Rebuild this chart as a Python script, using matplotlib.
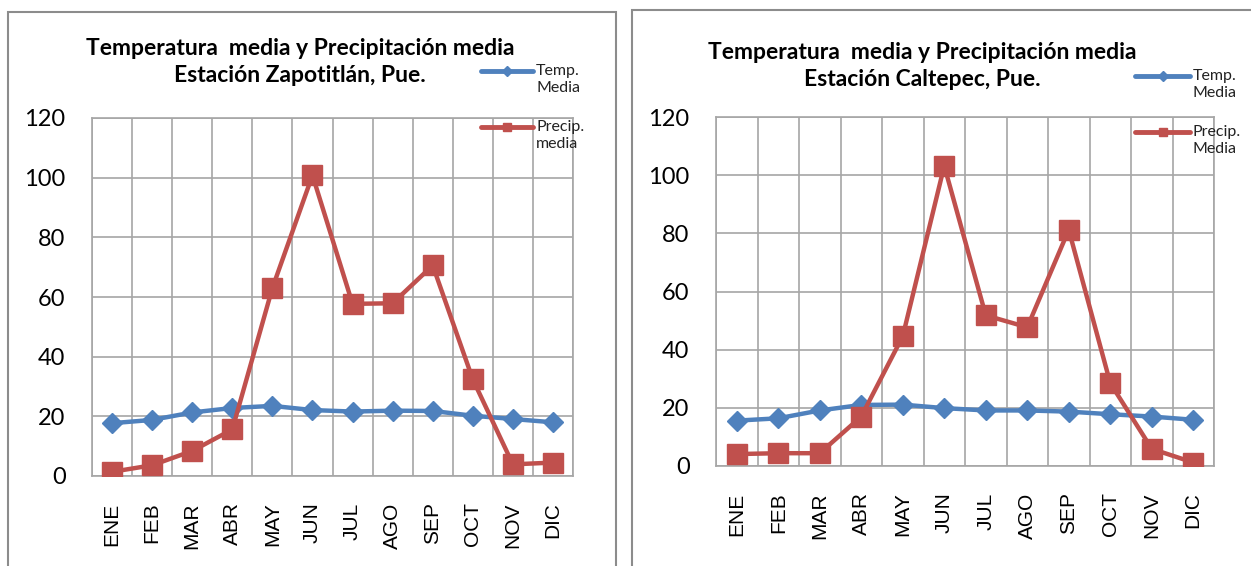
import matplotlib.pyplot as plt
from matplotlib.lines import Line2D
from matplotlib.patches import Rectangle

W, H = 1251, 566

meses = ['ENE', 'FEB', 'MAR', 'ABR', 'MAY', 'JUN', 'JUL', 'AGO', 'SEP', 'OCT', 'NOV', 'DIC']

# Estación Zapotitlán
temp_zapotitlan = [17.7, 18.8, 21.3, 22.8, 23.5, 22.1, 21.6, 21.9, 21.8, 20.2, 19.1, 18.0]
precip_zapotitlan = [1.4, 3.6, 8.4, 15.6, 63.0, 100.8, 57.7, 57.9, 70.6, 32.4, 3.9, 4.5]

# Estación Caltepec
temp_caltepec = [15.6, 16.4, 19.1, 21.0, 21.1, 19.9, 19.1, 19.1, 18.7, 17.8, 17.0, 15.9]
precip_caltepec = [4.1, 4.4, 4.4, 17.0, 44.6, 103.2, 51.8, 47.7, 81.2, 28.5, 5.9, 1.2]

yticks = [0, 20, 40, 60, 80, 100, 120]

AZUL = '#4F81BD'
ROJO = '#C0504D'
GRIS = '#a6a6a6'


def fx(x):
    return x / W


def fy(y):
    return 1 - y / H


def marco(fig, x0, y0, x1, y1):
    fig.add_artist(Rectangle((fx(x0), fy(y1)), fx(x1) - fx(x0), fy(y0) - fy(y1),
                             transform=fig.transFigure, fill=False,
                             edgecolor='#8c8c8c', linewidth=1.5))


def leyenda(fig, x0, x1, y, texto, color, marker, ms):
    fig.add_artist(Line2D([fx(x0), fx(x1)], [fy(y), fy(y)], transform=fig.transFigure,
                          color=color, linewidth=3.5, solid_capstyle='round'))
    fig.add_artist(Line2D([fx((x0 + x1) / 2)], [fy(y)], transform=fig.transFigure,
                          color=color, marker=marker, markersize=ms, linestyle='none'))
    fig.text(fx(x1 + 3), fy(y - 7), texto, fontsize=11.5, family='Lato',
             va='top', ha='left', linespacing=1.25, color='#222222')


def panel(fig, area, titulo, tx, ty, temp, precip, etiquetas, ley):
    x0, y0, x1, y1 = area
    ax = fig.add_axes([fx(x0), fy(y1), fx(x1) - fx(x0), fy(y0) - fy(y1)])
    pos = range(len(meses))
    ax.plot(pos, temp, color=AZUL, linewidth=3.2, marker='D', markersize=10.5, zorder=3)
    ax.plot(pos, precip, color=ROJO, linewidth=3.2, marker='s', markersize=15, zorder=4)

    ax.set_xlim(-0.5, len(meses) - 0.5)
    ax.set_ylim(0, 120)
    ax.set_yticks(yticks)
    ax.set_xticks(list(pos))
    ax.set_xticklabels(meses, rotation=90, fontsize=15, family='Liberation Sans')
    ax.set_xticks([i - 0.5 for i in range(len(meses) + 1)], minor=True)
    ax.tick_params(axis='x', which='major', length=0, pad=19)
    ax.tick_params(axis='x', which='minor', length=0)
    ax.tick_params(axis='y', length=0, pad=19, labelsize=17)
    for lbl in ax.get_yticklabels():
        lbl.set_family('Lato')
    ax.grid(True, axis='y', which='major', color=GRIS, linewidth=1.2)
    ax.grid(True, axis='x', which='minor', color=GRIS, linewidth=1.2)
    ax.set_axisbelow(True)
    for s in ax.spines.values():
        s.set_color(GRIS)
        s.set_linewidth(1.2)

    fig.text(fx(tx), fy(ty), titulo, ha='center', va='center', fontsize=16.5,
             fontweight='bold', family='Lato', linespacing=1.3)

    lx0, lx1, ly = ley
    leyenda(fig, lx0, lx1, ly, etiquetas[0], AZUL, 'D', 5)
    leyenda(fig, lx0, lx1, ly + 56, etiquetas[1], ROJO, 's', 6)
    return ax


fig = plt.figure(figsize=(W / 100, H / 100), dpi=100)
fig.patch.set_facecolor('white')

marco(fig, 8, 12, 616, 575)
marco(fig, 632, 10, 1260, 575)

panel(fig, (92, 118, 573, 476),
      'Temperatura  media y Precipitación media\nEstación Zapotitlán, Pue.', 300, 62,
      temp_zapotitlan, precip_zapotitlan, ['Temp.\nMedia', 'Precip.\nmedia'],
      (481, 533, 71))

panel(fig, (716, 117, 1214, 466),
      'Temperatura  media y Precipitación media\nEstación Caltepec, Pue.', 922, 66,
      temp_caltepec, precip_caltepec, ['Temp.\nMedia', 'Precip.\nMedia'],
      (1135, 1190, 76))

fig.savefig('out.png', dpi=100)
